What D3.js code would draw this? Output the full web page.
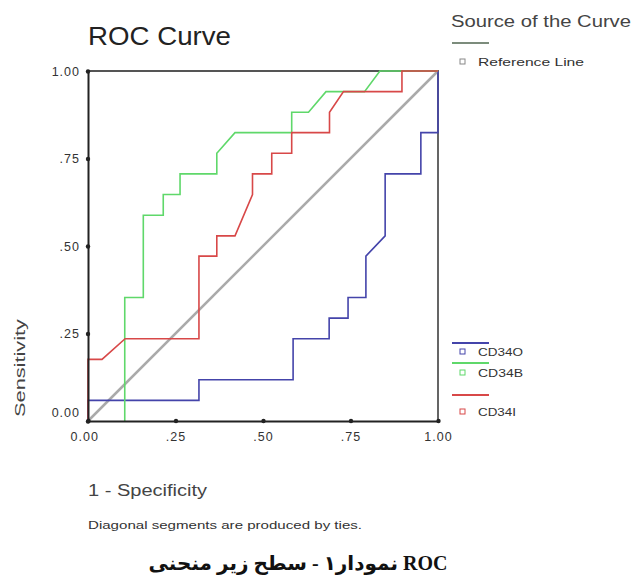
<!DOCTYPE html>
<html>
<head>
<meta charset="utf-8">
<script src="https://cdn.jsdelivr.net/npm/d3@7"></script>
<style>
	body { margin: 0; background: #fff; }
	svg { display: block; }
</style>
</head>
<body>
<div id="roc"></div>
<script>
// ticks on both axes
let tickValues = [0, 0.25, 0.5, 0.75, 1];
let tickLabels = ["0.00", ".25", ".50", ".75", "1.00"];

// 1 - specificity / sensitivity pairs
let cd34oX = [0, 0, 0.317, 0.317, 0.586, 0.586, 0.689, 0.689, 0.743, 0.743, 0.794, 0.794, 0.849, 0.849, 0.951, 0.951, 1, 1];
let cd34oY = [0, 0.059, 0.059, 0.118, 0.118, 0.235, 0.235, 0.294, 0.294, 0.353, 0.353, 0.471, 0.529, 0.706, 0.706, 0.824, 0.824, 1];

let cd34bX = [0.105, 0.105, 0.158, 0.158, 0.215, 0.215, 0.263, 0.263, 0.368, 0.368, 0.42, 0.582, 0.582, 0.63, 0.68, 0.79, 0.834, 1];
let cd34bY = [0, 0.353, 0.353, 0.588, 0.588, 0.647, 0.647, 0.706, 0.706, 0.765, 0.824, 0.824, 0.882, 0.882, 0.941, 0.941, 1, 1];

let cd34iX = [0, 0, 0.04, 0.106, 0.317, 0.317, 0.368, 0.368, 0.42, 0.47, 0.47, 0.525, 0.525, 0.582, 0.582, 0.69, 0.69, 0.73, 0.897, 0.897, 1];
let cd34iY = [0, 0.176, 0.176, 0.235, 0.235, 0.471, 0.471, 0.529, 0.529, 0.647, 0.706, 0.706, 0.765, 0.765, 0.824, 0.824, 0.882, 0.941, 0.941, 1, 1];

let refX = [0, 1];
let refY = [0, 1];

let seriesNames = ["CD34O", "CD34B", "CD34I"];
let seriesColors = ["#4444aa", "#5fd86a", "#d84848"];

// figure caption, set in a left-to-right line as in the source document
let caption = "نمودار۱ - سطح زیر منحنی ROC";

class RocChart {
	constructor(series) {
		this.series = series;
		this.svg = null;
	};

	update() {
		let width = 631;
		let height = 581;
		let left = 88, top = 71, size = 350;
		let sans = "'Liberation Sans', Arial, sans-serif";

		const svg = d3.select('#roc')
			.append("svg")
			.attr("width", width)
			.attr("height", height)
			.style("font-family", sans);
		this.svg = svg;

		let x = d3.scaleLinear().domain([0, 1]).range([left, left + size]);
		let y = d3.scaleLinear().domain([0, 1]).range([top + size, top]);

		// title
		svg.append("text")
			.attr("x", 88)
			.attr("y", 45)
			.attr("font-size", 25)
			.attr("textLength", 143)
			.attr("lengthAdjust", "spacingAndGlyphs")
			.attr("fill", "#222")
			.text("ROC Curve");

		// frame top / right
		svg.append("path")
			.attr("d", `M${x(0)},${y(1)}H${x(1)}V${y(0)}`)
			.attr("fill", "none")
			.attr("stroke", "#555")
			.attr("stroke-width", 1.8);

		let line = d3.line()
			.x(d => x(d[0]))
			.y(d => y(d[1]));

		// reference diagonal
		svg.append("path")
			.datum(d3.zip(refX, refY))
			.attr("fill", "none")
			.attr("stroke", "#aaa")
			.attr("stroke-width", 2.5)
			.attr("d", line);

		svg.append("g")
			.selectAll("path")
			.data(this.series)
			.join("path")
			.attr("fill", "none")
			.attr("stroke", d => d.color)
			.attr("stroke-width", 1.6)
			.attr("d", d => line(d3.zip(d.xs, d.ys)));

		// axes
		let xAxis = d3.axisBottom(x)
			.tickValues(tickValues)
			.tickFormat((d, i) => tickLabels[i])
			.tickSize(0)
			.tickPadding(11);
		let yAxis = d3.axisLeft(y)
			.tickValues(tickValues)
			.tickFormat((d, i) => tickLabels[i])
			.tickSize(0)
			.tickPadding(8);

		let gx = svg.append("g")
			.attr("transform", `translate(0,${y(0)})`)
			.call(xAxis);
		let gy = svg.append("g")
			.attr("transform", `translate(${x(0)},0)`)
			.call(yAxis);

		[gx, gy].forEach(g => {
			g.select(".domain").attr("stroke", "#222").attr("stroke-width", 2);
			g.selectAll("text")
				.attr("font-size", 12.5)
				.attr("letter-spacing", 1)
				.attr("fill", "#333")
				.attr("font-family", sans);
			g.selectAll(".tick").append("circle").attr("r", 2.2).attr("fill", "#222");
		});
		gx.selectAll(".tick text").filter(d => d === 0).attr("dx", "-0.3em");
		gy.selectAll(".tick text").filter(d => d === 0).attr("dy", "-0.4em");

		// axis titles
		svg.append("text")
			.attr("transform", `translate(25,${368}) rotate(-90)`)
			.attr("text-anchor", "middle")
			.attr("font-size", 15)
			.attr("textLength", 98)
			.attr("lengthAdjust", "spacingAndGlyphs")
			.attr("fill", "#444")
			.text("Sensitivity");

		svg.append("text")
			.attr("x", 88)
			.attr("y", 496)
			.attr("font-size", 16)
			.attr("textLength", 119)
			.attr("lengthAdjust", "spacingAndGlyphs")
			.attr("fill", "#444")
			.text("1 - Specificity");

		svg.append("text")
			.attr("x", 88)
			.attr("y", 529)
			.attr("font-size", 11)
			.attr("textLength", 274)
			.attr("lengthAdjust", "spacingAndGlyphs")
			.attr("fill", "#333")
			.text("Diagonal segments are produced by ties.");

		// legend
		let lg = svg.append("g").attr("font-size", 11.5).attr("fill", "#333");
		lg.append("text")
			.attr("x", 451)
			.attr("y", 27)
			.attr("font-size", 16)
			.attr("textLength", 180)
			.attr("lengthAdjust", "spacingAndGlyphs")
			.attr("fill", "#444")
			.text("Source of the Curve");

		let entries = this.series.map(d => ({name: d.name, color: d.color, mark: d.color}));
		entries.push({name: "Reference Line", color: "#7c8c7c", mark: "#888"});
		let lineY = [343, 363, 395, 43];
		let textY = [352, 373, 412, 62];
		let textW = [45, 45, 38, 106];

		entries.forEach((e, i) => {
			lg.append("line")
				.attr("x1", 452).attr("x2", 489)
				.attr("y1", lineY[i]).attr("y2", lineY[i])
				.attr("stroke", e.color)
				.attr("stroke-width", 1.8);
			lg.append("rect")
				.attr("x", 460).attr("y", textY[i] - 3)
				.attr("width", 5).attr("height", 5)
				.attr("fill", "none")
				.attr("stroke", e.mark);
			lg.append("text")
				.attr("x", 478)
				.attr("y", textY[i] + 4)
				.attr("textLength", textW[i])
				.attr("lengthAdjust", "spacingAndGlyphs")
				.text(e.name);
		});

		// caption (Persian) in an LTR line; LRM keeps the base direction left-to-right
		svg.append("text")
			.attr("x", 298)
			.attr("y", 570)
			.attr("text-anchor", "middle")
			.attr("direction", "ltr")
			.attr("font-size", 20)
			.attr("font-weight", "bold")
			.attr("fill", "#111")
			.style("font-family", "'Liberation Serif', 'DejaVu Sans', serif")
			.text("\u200E" + caption);
	};
}

let series = [
	{name: seriesNames[0], color: seriesColors[0], xs: cd34oX, ys: cd34oY},
	{name: seriesNames[1], color: seriesColors[1], xs: cd34bX, ys: cd34bY},
	{name: seriesNames[2], color: seriesColors[2], xs: cd34iX, ys: cd34iY}
];

let chart = new RocChart(series);
chart.update();
</script>
</body>
</html>
